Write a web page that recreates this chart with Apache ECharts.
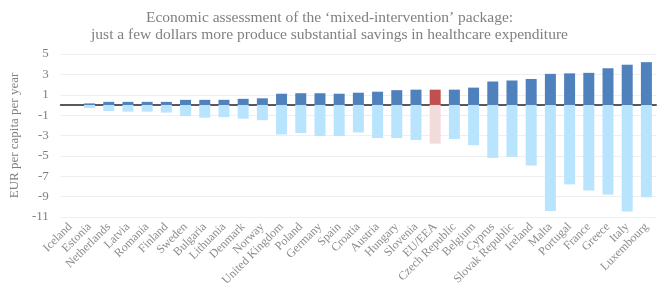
<!doctype html>
<html>
<head>
    <meta charset="utf-8">
    <title>Mixed-intervention package</title>
    <script src="https://cdn.jsdelivr.net/npm/echarts@6/dist/echarts.min.js"></script>
    <style>
        body { margin: 0; background: #fff; }
    </style>
</head>
<body>
    <div id="container" style="width:659px;height:293px;"></div>
    <script type="text/javascript">
        var countries = ['Iceland', 'Estonia', 'Netherlands', 'Latvia', 'Romania', 'Finland', 'Sweden', 'Bulgaria',
            'Lithuania', 'Denmark', 'Norway', 'United Kingdom', 'Poland', 'Germany', 'Spain', 'Croatia', 'Austria',
            'Hungary', 'Slovenia', 'EU/EEA', 'Czech Republic', 'Belgium', 'Cyprus', 'Slovak Republic', 'Ireland',
            'Malta', 'Portugal', 'France', 'Greece', 'Italy', 'Luxembourg'];
        // per capita cost of the package (positive)
        var costs = [0, 0.15, 0.3, 0.3, 0.3, 0.3, 0.5, 0.5, 0.5, 0.6, 0.65, 1.1, 1.15, 1.15, 1.1, 1.2, 1.3,
            1.45, 1.5, 1.5, 1.5, 1.7, 2.3, 2.4, 2.55, 3.05, 3.1, 3.15, 3.6, 3.95, 4.2];
        // healthcare savings (negative)
        var savings = [0, -0.3, -0.6, -0.65, -0.65, -0.75, -1.1, -1.25, -1.2, -1.35, -1.5, -2.9, -2.75, -3.05,
            -3.05, -2.7, -3.25, -3.25, -3.45, -3.8, -3.35, -3.95, -5.2, -5.1, -5.95, -10.4, -7.8, -8.4, -8.8,
            -10.45, -9.05];
        var yTicks = [-11, -9, -7, -5, -3, -1, 1, 3, 5];
        var highlight = 'EU/EEA';

        var serif = '"Liberation Serif", "DejaVu Serif", serif';

        function toData(values, normalColor, hiColor) {
            return values.map(function (v, i) {
                return {
                    value: v,
                    itemStyle: { color: countries[i] == highlight ? hiColor : normalColor }
                };
            });
        }

        var option = {
            animation: false,
            title: {
                text: 'Economic assessment of the \u2018mixed-intervention\u2019 package:\njust a few dollars more produce substantial savings in healthcare expenditure',
                left: 'center',
                top: 4,
                textStyle: {
                    fontFamily: serif,
                    fontSize: 15.5,
                    fontWeight: 'normal',
                    color: '#808080',
                    lineHeight: 17
                }
            },
            grid: { left: 52, right: 3, top: 54, bottom: 76 },
            xAxis: {
                type: 'category',
                data: countries,
                axisLine: { show: true, onZero: true, lineStyle: { color: '#595959', width: 2 } },
                axisTick: { show: false },
                axisLabel: {
                    rotate: 45,
                    interval: 0,
                    margin: 8,
                    fontFamily: serif,
                    fontSize: 12,
                    color: '#8c8c8c'
                }
            },
            yAxis: {
                type: 'value',
                min: yTicks[0],
                max: yTicks[yTicks.length - 1],
                interval: 2,
                name: 'EUR per capita per year',
                nameLocation: 'middle',
                nameGap: 34,
                nameTextStyle: { fontFamily: serif, fontSize: 13, color: '#7f7f7f' },
                axisLine: { show: false },
                axisTick: { show: false },
                axisLabel: { fontFamily: serif, fontSize: 13, color: '#7f7f7f', margin: 12 },
                splitLine: { lineStyle: { color: '#efefef', width: 1 } }
            },
            series: [
                {
                    name: 'Cost',
                    type: 'bar',
                    stack: 'total',
                    barWidth: 11,
                    z: 1,
                    data: toData(costs, '#4f81bd', '#c0504d')
                },
                {
                    name: 'Savings',
                    type: 'bar',
                    stack: 'total',
                    barWidth: 11,
                    z: 1,
                    data: toData(savings, '#b9e4fd', '#f2dcdb')
                }
            ]
        };

        var myChart = echarts.init(document.getElementById('container'));
        myChart.setOption(option);
    </script>
</body>
</html>
